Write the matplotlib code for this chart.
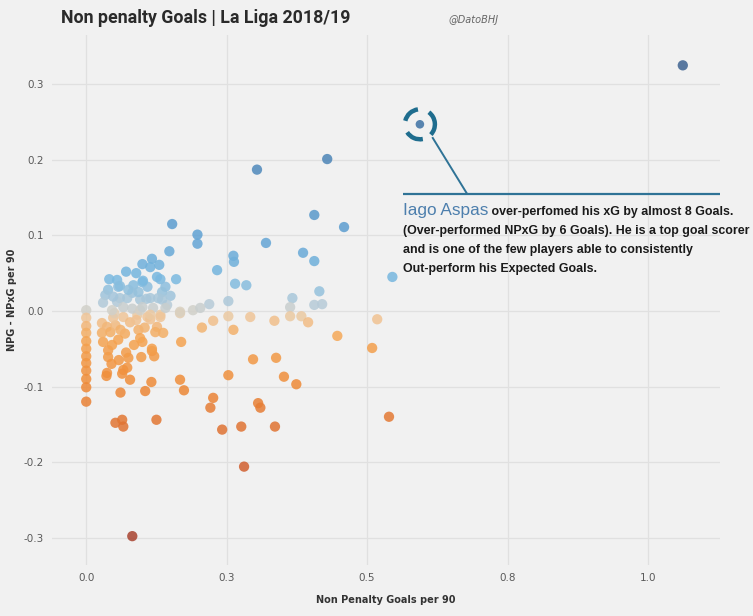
import matplotlib
matplotlib.use("Agg")
import matplotlib.pyplot as plt
from matplotlib.colors import LinearSegmentedColormap
from matplotlib.patches import Arc

# Non penalty goals per 90 (x) vs NPG - NPxG per 90 (y), La Liga 2018/19
npg_per90 = [
    1.062, 0.304, 0.429, 0.406, 0.459, 0.153, 0.198, 0.198, 0.320, 0.262,
    0.263, 0.233, 0.386, 0.406, 0.265, 0.285, 0.545, 0.415, 0.367, 0.253,
    0.219, 0.190, 0.203, 0.363, 0.406, 0.420, 0.253, 0.292, 0.226, 0.335,
    0.363, 0.383, 0.395, 0.518, 0.206, 0.262, 0.447, 0.509, 0.297, 0.338,
    0.253, 0.352, 0.374, 0.226, 0.221, 0.306, 0.310, 0.242, 0.276, 0.336,
    0.539, 0.281, 0.082, 0.052, 0.064, 0.066, 0.125, 0.000, 0.061, 0.105,
    0.116, 0.078, 0.037, 0.167, 0.174, 0.098, 0.075, 0.117, 0.121, 0.100,
    0.169, 0.069, 0.039, 0.066, 0.073, 0.064,
    0.000, 0.000, 0.000, 0.000, 0.000, 0.000, 0.000, 0.000, 0.000, 0.000,
    0.000,
    0.030, 0.039, 0.036, 0.028, 0.028, 0.037, 0.043, 0.052, 0.093, 0.096,
    0.126, 0.137, 0.132, 0.091, 0.167, 0.109, 0.114, 0.066, 0.048, 0.123,
    0.117, 0.057, 0.046, 0.061, 0.078, 0.050, 0.085, 0.071, 0.045, 0.089,
    0.104, 0.058,
    0.148, 0.117, 0.100, 0.130, 0.114, 0.071, 0.089, 0.126, 0.132, 0.160,
    0.041, 0.055, 0.100, 0.084, 0.109, 0.141, 0.057, 0.039, 0.135, 0.150,
    0.034, 0.060, 0.114, 0.128, 0.030, 0.055, 0.096, 0.144, 0.066, 0.082,
    0.167, 0.096, 0.119, 0.060, 0.101, 0.048, 0.107, 0.135, 0.141, 0.100,
    0.132, 0.114, 0.082, 0.073, 0.046, 0.075, 0.093,
]
npg_minus_npxg = [
    0.325, 0.187, 0.201, 0.127, 0.111, 0.115, 0.101, 0.089, 0.090, 0.073,
    0.065, 0.054, 0.077, 0.066, 0.036, 0.034, 0.045, 0.026, 0.017, 0.013,
    0.009, 0.001, 0.004, 0.005, 0.008, 0.009, -0.007, -0.008, -0.013, -0.013,
    -0.007, -0.007, -0.015, -0.011, -0.022, -0.025, -0.033, -0.049, -0.064, -0.062,
    -0.085, -0.087, -0.097, -0.115, -0.128, -0.122, -0.128, -0.157, -0.153, -0.153,
    -0.140, -0.206, -0.298, -0.148, -0.144, -0.153, -0.144, -0.120, -0.108, -0.106,
    -0.094, -0.091, -0.082, -0.091, -0.105, -0.061, -0.062, -0.053, -0.060, -0.041,
    -0.041, -0.030, -0.061, -0.078, -0.075, -0.083,
    0.001, -0.009, -0.020, -0.029, -0.040, -0.050, -0.060, -0.069, -0.079, -0.090,
    -0.101,
    -0.041, -0.052, -0.086, -0.016, -0.029, -0.021, -0.028, -0.019, -0.025, -0.036,
    -0.021, -0.029, -0.005, -0.005, -0.003, -0.008, -0.011, -0.008, -0.009, -0.028,
    -0.050, -0.038, -0.045, -0.025, -0.015, -0.003, -0.045, -0.055, -0.070, -0.012,
    -0.022, -0.065,
    0.079, 0.069, 0.062, 0.061, 0.058, 0.052, 0.050, 0.045, 0.042, 0.042,
    0.042, 0.041, 0.038, 0.034, 0.032, 0.032, 0.032, 0.028, 0.025, 0.020,
    0.021, 0.017, 0.017, 0.017, 0.011, 0.012, 0.015, 0.008, 0.005, 0.003,
    -0.001, 0.001, 0.004, 0.033, 0.040, 0.019, 0.016, 0.015, 0.004, 0.005,
    -0.008, -0.005, 0.024, 0.017, 0.001, 0.028, 0.025,
]

# highlighted player
aspas_x = 0.594
aspas_y = 0.247

x_ticks = [0.0, 0.25, 0.5, 0.75, 1.0]
x_tick_labels = ["0.0", "0.3", "0.5", "0.8", "1.0"]
y_ticks = [-0.3, -0.2, -0.1, 0.0, 0.1, 0.2, 0.3]
y_tick_labels = ["-0.3", "-0.2", "-0.1", "0.0", "0.1", "0.2", "0.3"]

BG = "#f1f1f1"
cmap = LinearSegmentedColormap.from_list("orange_blue", [
    (0.00, "#a8432f"),
    (0.16, "#d4612f"),
    (0.32, "#ee8a37"),
    (0.42, "#f5a552"),
    (0.465, "#efc79c"),
    (0.476, "#d6d1c6"),
    (0.49, "#b7cbd8"),
    (0.54, "#7ab9e0"),
    (0.64, "#5ea0d2"),
    (0.80, "#4c84b6"),
    (1.00, "#3d628f"),
])
norm = plt.Normalize(-0.3, 0.33)

fig = plt.figure(figsize=(7.53, 6.16), dpi=100, facecolor=BG)
ax = fig.add_axes([0.069, 0.083, 0.887, 0.860])
ax.set_facecolor(BG)

ax.scatter(npg_per90, npg_minus_npxg, c=npg_minus_npxg, cmap=cmap, norm=norm,
           s=55, alpha=0.85, edgecolors="none", zorder=3)
ax.scatter([aspas_x], [aspas_y], c=[aspas_y], cmap=cmap, norm=norm,
           s=38, alpha=0.9, edgecolors="none", zorder=4)

ax.set_xlim(-0.061, 1.128)
ax.set_ylim(-0.336, 0.365)
ax.set_xticks(x_ticks)
ax.set_xticklabels(x_tick_labels)
ax.set_yticks(y_ticks)
ax.set_yticklabels(y_tick_labels)
ax.tick_params(length=0, labelsize=7.5, labelcolor="#5a5a5a")
ax.tick_params(axis="x", pad=6)
ax.tick_params(axis="y", pad=6)
ax.grid(True, color="#e0e0e0", linewidth=0.9, zorder=0)
for s in ax.spines.values():
    s.set_visible(False)

ax.set_xlabel("Non Penalty Goals per 90", fontsize=7, fontweight="bold",
              color="#333333")
ax.xaxis.set_label_coords(0.5, -0.056)
ax.set_ylabel("NPG - NPxG per 90", fontsize=7, fontweight="bold",
              color="#333333")
ax.yaxis.set_label_coords(-0.052, 0.5)

fig.text(0.081, 0.970, "Non penalty Goals | La Liga 2018/19", fontsize=12.8,
         fontweight="bold", family="Roboto", color="#2a2a2a",
         va="center", ha="left")
fig.text(0.596, 0.968, "@DatoBHJ", fontsize=7, fontstyle="italic",
         color="#666666", va="center", ha="left")

# dashed ring around the highlighted player
ring_w = 30 / 562
ring_h = 30 / 756
for t1, t2 in [(100, 170), (-35, 45), (205, 285)]:
    ax.add_patch(Arc((aspas_x, aspas_y), ring_w, ring_h, theta1=t1, theta2=t2,
                     color="#1f6d8e", linewidth=3.2, zorder=5))

line_col = "#2f7396"
ax.plot([0.616, 0.678], [0.230, 0.155], color=line_col, lw=1.4, zorder=5,
        solid_capstyle="butt")
ax.plot([0.564, 1.128], [0.155, 0.155], color=line_col, lw=1.6, zorder=5,
        solid_capstyle="butt")

name = ax.text(0.564, 0.127, "Iago Aspas", fontsize=12.4, color="#4d7fad",
               family="Liberation Sans", va="baseline", ha="left")
fig.canvas.draw()
bb = name.get_window_extent()
x_after = ax.transData.inverted().transform((bb.x1, bb.y0))[0]
body = dict(fontsize=8.9, fontweight="bold", color="#1a1a1a",
            family="Liberation Sans", va="baseline", ha="left")
ax.text(x_after, 0.127, " over-perfomed his xG by almost 8 Goals.", **body)
ax.text(0.564, 0.102, "(Over-performed NPxG by 6 Goals). He is a top goal scorer", **body)
ax.text(0.564, 0.077, "and is one of the few players able to consistently", **body)
ax.text(0.564, 0.052, "Out-perform his Expected Goals.", **body)

fig.savefig("out.png", dpi=100, facecolor=BG)
